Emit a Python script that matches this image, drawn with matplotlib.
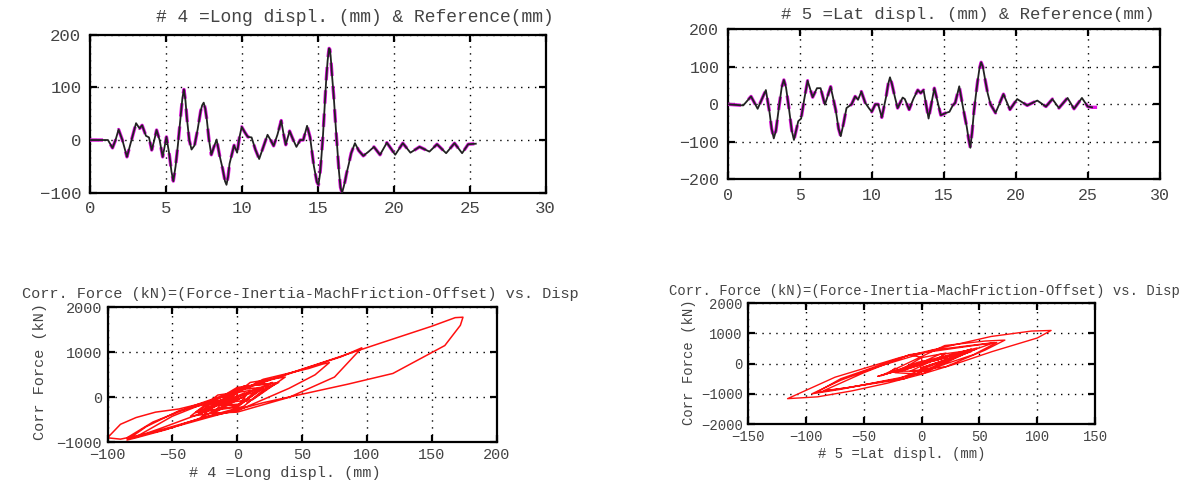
import matplotlib
matplotlib.use("Agg")
import matplotlib.pyplot as plt

# ---------------- data ----------------
# Channel 4 : longitudinal displacement (mm) and corrected force (kN) vs time (s)
t_long = [0, 1.2, 1.5, 1.7, 1.9, 2.15, 2.45, 2.75, 3.05, 3.28,
          3.45, 3.7, 3.9, 4.08, 4.25, 4.4, 4.6, 4.8, 5.05, 5.25,
          5.38, 5.5, 5.65, 5.8, 6.0, 6.1, 6.2, 6.3, 6.4, 6.55,
          6.7, 6.9, 7.1, 7.3, 7.4, 7.5, 7.6, 7.7, 7.85, 8.0,
          8.15, 8.35, 8.55, 8.75, 8.9, 9.0, 9.1, 9.2, 9.5, 9.7,
          9.85, 10.0, 10.2, 10.4, 10.65, 10.9, 11.15, 11.4, 11.7, 11.9,
          12.1, 12.35, 12.6, 12.75, 12.9, 13.15, 13.35, 13.6, 13.85, 14.05,
          14.3, 14.5, 14.75, 14.95, 15.05, 15.15, 15.25, 15.35, 15.45, 15.55,
          15.65, 15.72, 15.75, 15.8, 15.85, 15.95, 16.05, 16.2, 16.3, 16.4,
          16.5, 16.6, 16.7, 16.8, 16.9, 17.05, 17.2, 17.45, 17.7, 18.0,
          18.35, 18.7, 19.1, 19.55, 20.1, 20.6, 21.1, 21.7, 22.35, 22.85,
          23.45, 24.0, 24.5, 24.9, 25.4]
long_disp = [0, 0, -15, 0, 20, 0, -32, 0, 32, 22,
             28, 8, 5, -19, 0, 19, 0, -32, 6, -30,
             -60, -78, -50, -10, 50, 80, 96, 75, 40, 0,
             -18, -10, 20, 55, 66, 71, 60, 40, 0, -28,
             -15, 1, -30, -55, -78, -85, -70, -45, -10, -24,
             5, 25, 15, 6, 5, -18, -36, -15, 10, 0,
             -11, 10, 37, 12, -9, 17, 3, -13, 0, 0,
             27, 5, -50, -80, -85, -65, -30, 10, 60, 110,
             150, 168, 174, 172, 160, 120, 85, 20, -20, -60,
             -90, -100, -90, -78, -63, -45, -25, -6, -20, -30,
             -22, -13, -28, -5, -28, -6, -24, -13, -22, -8,
             -25, -6, -25, -8, -7]
long_force = [0, 0, -150, 180, 200, -200, -330, 220, 330, 180,
              290, -120, 0, -210, 200, 200, -220, -340, 100, -380,
              -700, -880, -420, 40, 620, 900, 1100, 450, 0, -330,
              -350, -50, 400, 640, 740, 770, 500, 200, -300, -450,
              -100, -20, -480, -720, -900, -950, -650, -300, -50, -300,
              250, 300, 130, 50, 20, -350, -420, 50, 150, -200,
              -150, 330, 450, -50, -120, 220, -150, -180, 150, 0,
              330, -200, -650, -900, -900, -550, -150, 250, 720, 1200,
              1580, 1770, 1780, 1600, 1150, 530, 290, -120, -430, -750,
              -930, -900, -600, -450, -330, -260, -120, 50, -250, -380,
              -180, -60, -350, 20, -350, 0, -300, -100, -250, -40,
              -320, 0, -310, -60, -60]
# reference command follows the measured trace and runs a little longer
t_long_ref = t_long + [25.9]
long_ref = long_disp + [-6]

# Channel 5 : lateral displacement (mm) and corrected force (kN) vs time (s)
t_lat = [0, 1.08, 1.62, 2.08, 2.65, 2.9, 3.05, 3.2, 3.35, 3.55,
         3.75, 3.9, 4.05, 4.25, 4.45, 4.6, 4.75, 4.9, 5.1, 5.3,
         5.55, 5.9, 6.2, 6.45, 6.75, 7.15, 7.5, 7.7, 7.85, 8.05,
         8.25, 8.6, 8.85, 9.05, 9.28, 9.55, 9.8, 10.0, 10.25, 10.45,
         10.7, 11.0, 11.15, 11.27, 11.4, 11.6, 11.8, 12.15, 12.3, 12.6,
         12.9, 13.2, 13.4, 13.6, 13.95, 14.35, 14.8, 15.15, 15.4, 15.63,
         15.8, 16.08, 16.3, 16.45, 16.6, 16.72, 16.85, 16.97, 17.1, 17.22,
         17.35, 17.48, 17.6, 17.72, 17.9, 18.05, 18.25, 18.6, 19.15, 19.6,
         20.1, 20.8, 21.5, 22.1, 22.55, 23.0, 23.6, 24.05, 24.6, 25.0,
         25.3]
lat_disp = [0, -3, 21, -12, 38, -20, -65, -91, -70, -10,
            45, 65, 45, -10, -70, -95, -70, -45, -38, 10,
            63, 19, 43, 43, -1, 47, -15, -65, -85, -50,
            -10, 0, 21, 12, 34, 4, -10, -20, 0, 0,
            -35, 20, 55, 72, 55, 21, -10, 18, 14, -14,
            15, 38, 30, 38, -38, 43, -29, -23, -20, -3,
            4, 48, 0, -30, -60, -90, -116, -75, -19, 20,
            60, 95, 112, 100, 61, 30, 0, -23, 27, -14,
            14, -3, 10, -6, 14, -10, 17, -12, 17, -6,
            -8]
lat_force = [0, -30, 200, -130, 380, -500, -800, -950, -500, 300,
             600, 700, 300, -400, -850, -1000, -550, -200, -100, 450,
             700, 100, 430, 400, -150, 480, -500, -800, -900, -300,
             300, 200, 350, 100, 380, -250, -250, -250, 200, 50,
             -400, 600, 750, 780, 450, -100, -250, 250, 150, -200,
             300, 420, 250, 400, -420, 480, -320, -150, -200, 50,
             100, 520, -350, -650, -900, -1100, -1160, -450, 200, 550,
             900, 1080, 1100, 850, 400, 0, -350, -300, 300, -150,
             150, -50, 100, -60, 150, -100, 180, -120, 180, -60,
             -80]
t_lat_ref = t_lat + [26.0]
lat_ref = lat_disp + [-8]

title_long = "# 4 =Long displ. (mm) & Reference(mm)"
title_lat = "# 5 =Lat displ. (mm) & Reference(mm)"
title_force = "Corr. Force (kN)=(Force-Inertia-MachFriction-Offset) vs. Disp"
xlabel_long = "# 4 =Long displ. (mm)"
xlabel_lat = "# 5 =Lat displ. (mm)"
ylabel_force = "Corr Force (kN)"

# ---------------- figure ----------------
plt.rcParams["font.family"] = ["Liberation Mono", "DejaVu Sans Mono"]
TXT = "#444444"
W, H = 1191, 484
fig = plt.figure(figsize=(W / 100, H / 100), dpi=100)


def ax_at(l, t, r, b):
    return fig.add_axes([l / W, 1 - b / H, (r - l) / W, (b - t) / H])


def style(ax, fs, pad=6):
    for s in ax.spines.values():
        s.set_linewidth(1.6)
    ax.tick_params(direction="in", length=5, width=1.6, top=True, right=True,
                   labelsize=fs, labelcolor=TXT, pad=pad)
    ax.grid(True, color="k", linestyle=(0, (1, 4)), linewidth=1.0)
    ax.set_axisbelow(True)


# top-left
ax1 = ax_at(89.7, 34.7, 545.7, 192.7)
ax1.plot(t_long_ref, long_ref, color="#e010e0", lw=2.4, ls=(0, (4, 3)), zorder=3)
ax1.plot(t_long, long_disp, color="#222222", lw=1.3, zorder=4)
ax1.set_xlim(0, 30)
ax1.set_ylim(-100, 200)
ax1.set_xticks([0, 5, 10, 15, 20, 25, 30])
ax1.set_yticks([-100, 0, 100, 200])
style(ax1, 12.5)
fig.text(355 / W, 1 - 18 / H, title_long, ha="center", va="center",
         fontsize=13, color=TXT)

# top-right
ax2 = ax_at(727.7, 29.3, 1159.7, 179.3)
ax2.plot(t_lat_ref, lat_ref, color="#e010e0", lw=2.4, ls=(0, (4, 3)), zorder=3)
ax2.plot(t_lat, lat_disp, color="#222222", lw=1.3, zorder=4)
ax2.set_xlim(0, 30)
ax2.set_ylim(-200, 200)
ax2.set_xticks([0, 5, 10, 15, 20, 25, 30])
ax2.set_yticks([-200, -100, 0, 100, 200])
style(ax2, 12)
fig.text(968 / W, 1 - 15 / H, title_lat, ha="center", va="center",
         fontsize=12.5, color=TXT)

# bottom-left
ax3 = ax_at(107.5, 307.3, 496.7, 442.3)
ax3.plot(long_disp, long_force, color="#ff1010", lw=1.1)
ax3.set_xlim(-100, 200)
ax3.set_ylim(-1000, 2000)
ax3.set_xticks([-100, -50, 0, 50, 100, 150, 200])
ax3.set_yticks([-1000, 0, 1000, 2000])
style(ax3, 11, pad=4)
fig.text(300 / W, 1 - 294 / H, title_force, ha="center", va="center",
         fontsize=11, color=TXT)
fig.text(285 / W, 1 - 473 / H, xlabel_long, ha="center", va="center",
         fontsize=11, color=TXT)
fig.text(40 / W, 1 - 372 / H, ylabel_force, ha="center", va="center",
         rotation=90, fontsize=11, color=TXT)

# bottom-right
ax4 = ax_at(748.3, 303.3, 1095, 424)
ax4.plot(lat_disp, lat_force, color="#ff1010", lw=1.0)
ax4.set_xlim(-150, 150)
ax4.set_ylim(-2000, 2000)
ax4.set_xticks([-150, -100, -50, 0, 50, 100, 150])
ax4.set_yticks([-2000, -1000, 0, 1000, 2000])
style(ax4, 10, pad=4)
fig.text(924 / W, 1 - 291 / H, title_force, ha="center", va="center",
         fontsize=10, color=TXT)
fig.text(902 / W, 1 - 454 / H, xlabel_lat, ha="center", va="center",
         fontsize=10, color=TXT)
fig.text(689 / W, 1 - 362 / H, ylabel_force, ha="center", va="center",
         rotation=90, fontsize=10, color=TXT)

fig.savefig("out.png", dpi=100)
